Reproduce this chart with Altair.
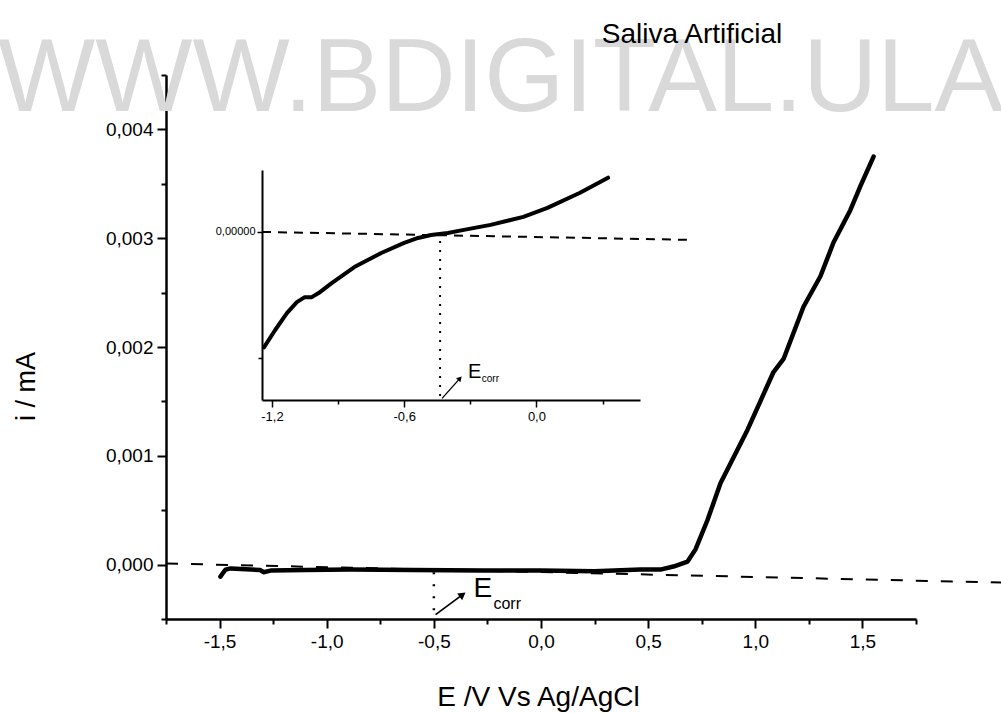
import altair as alt
import pandas as pd

# ---------------- data ----------------
# main polarisation curve (E in V, i in mA)
E_main = [-1.496, -1.485, -1.472, -1.449, -1.40, -1.31, -1.295, -1.262, -1.10, -0.889,
          -0.60, -0.268, 0.0, 0.25, 0.464, 0.557, 0.618, 0.684, 0.721, 0.777,
          0.838, 0.964, 1.085, 1.132, 1.225, 1.304, 1.365, 1.444, 1.491, 1.552]
I_main = [-0.00011, -0.00008, -0.000046, -0.000035, -0.00004, -0.00005, -0.00007, -0.000055, -0.00005, -0.000046,
          -0.00005, -0.000055, -0.000055, -0.00006, -0.000046, -0.000046, -0.000018, 0.000028, 0.00014, 0.00041,
          0.00075, 0.00124, 0.00177, 0.00189, 0.00237, 0.00265, 0.00296, 0.00326, 0.00348, 0.00375]

# dashed zero-current reference line (main)
E_base = [-1.75, 2.16]
I_base = [0.00001, -0.000166]

# E_corr marker (main)
E_corr_main = -0.5
I_corr_line = [-0.00007, -0.00045]
E_arrow_main = [-0.492, -0.366]
I_arrow_main = [-0.00046, -0.000276]

# inset curve (E in V, arbitrary current units)
E_in = [-1.236, -1.186, -1.132, -1.087, -1.051, -1.019, -0.988, -0.929, -0.826, -0.704,
        -0.60, -0.537, -0.478, -0.402, -0.329, -0.208, -0.059, 0.050, 0.198, 0.325]
V_in = [-0.913, -0.778, -0.643, -0.556, -0.516, -0.516, -0.484, -0.405, -0.278, -0.167,
        -0.087, -0.048, -0.024, -0.008, 0.016, 0.056, 0.119, 0.190, 0.310, 0.429]
E_in_base = [-1.245, 0.70]
V_in_base = [0.0, -0.063]
E_corr_in = -0.437
V_corr_in = [0.0, -1.33]
E_arrow_in = [-0.428, -0.347]
V_arrow_in = [-1.317, -1.159]

x_major = [-1.5, -1.0, -0.5, 0.0, 0.5, 1.0, 1.5]
x_minor = [-1.75, -1.25, -0.75, -0.25, 0.25, 0.75, 1.25, 1.75]
y_major = [0.0, 0.001, 0.002, 0.003, 0.004]
y_minor = [-0.0005, 0.0005, 0.0015, 0.0025, 0.0035, 0.0045]
x_major_in = [-1.2, -0.6, 0.0]
x_minor_in = [-0.9, -0.3, 0.3]
y_major_in = [0.0]
y_minor_in = [-1.0]

FONT = "Liberation Sans"

# ---------------- scales ----------------
xdom = alt.Scale(domain=[-1.75, 1.75], nice=False, zero=False)
ydom = alt.Scale(domain=[-0.0005, 0.0045], nice=False, zero=False)
xin = alt.Scale(domain=[-1.245, 0.47], range=[96, 474], nice=False, zero=False)
yin = alt.Scale(domain=[-1.33, 0.49], range=[325, 95], nice=False, zero=False)

comma1 = "replace(replace(format(datum.value, '.1f'), '.', ','), '\u2212', '-')"
comma3 = "replace(replace(format(datum.value, '.3f'), '.', ','), '\u2212', '-')"

common = dict(domainColor="black", tickColor="black", grid=False, labelOverlap=False,
              labelColor="black", labelFont=FONT)

x_axis = alt.Axis(orient="bottom", values=x_major, title="E /V Vs Ag/AgCl", labelExpr=comma1,
                  tickSize=9, tickWidth=2, domainWidth=2.5, labelFontSize=19, labelPadding=4,
                  titleFontSize=28, titleFontWeight="normal", titleFont=FONT, titleColor="black",
                  titleX=372, titleY=86, titleAlign="center", titleBaseline="alphabetic", **common)
y_axis = alt.Axis(orient="left", values=y_major, title="i / mA", labelExpr=comma3,
                  tickSize=9, tickWidth=2, domainWidth=2.5, labelFontSize=19, labelPadding=4,
                  titleFontSize=27, titleFontWeight="normal", titleFont=FONT, titleColor="black",
                  titleX=-132, titleY=311, titleAngle=270, titleAlign="center",
                  titleBaseline="alphabetic", **common)
x_axis_minor = alt.Axis(orient="bottom", values=x_minor, title="", labels=False, domain=False,
                        tickSize=5, tickWidth=2, tickColor="black", grid=False)
y_axis_minor = alt.Axis(orient="left", values=y_minor, title="", labels=False, domain=False,
                        tickSize=5, tickWidth=2, tickColor="black", grid=False)

x_axis_in = alt.Axis(orient="bottom", offset=-219, values=x_major_in, title="", labelExpr=comma1,
                     tickSize=7, tickWidth=1.5, domainWidth=2, labelFontSize=13, labelPadding=3,
                     **common)
y_axis_in = alt.Axis(orient="left", offset=-96, values=y_major_in, title="",
                     labelExpr="'0,00000'", tickSize=5, tickWidth=1.5, domainWidth=2,
                     labelFontSize=11, labelPadding=2, **common)
x_axis_in_minor = alt.Axis(orient="bottom", offset=-219, values=x_minor_in, title="", labels=False,
                           domain=False, tickSize=4, tickWidth=1.5, tickColor="black", grid=False)
y_axis_in_minor = alt.Axis(orient="left", offset=-96, values=y_minor_in, title="", labels=False,
                           domain=False, tickSize=4, tickWidth=1.5, tickColor="black", grid=False)


def mx(xax=None):
    return alt.X("E:Q", scale=xdom, axis=xax) if xax is not None else alt.X("E:Q", scale=xdom, axis=None)


def my(yax=None):
    return alt.Y("I:Q", scale=ydom, axis=yax) if yax is not None else alt.Y("I:Q", scale=ydom, axis=None)


def ix(xax=None):
    return alt.X("E:Q", scale=xin, axis=xax) if xax is not None else alt.X("E:Q", scale=xin, axis=None)


def iy(yax=None):
    return alt.Y("V:Q", scale=yin, axis=yax) if yax is not None else alt.Y("V:Q", scale=yin, axis=None)


# ---------------- main group ----------------
df_main = pd.DataFrame({"E": E_main, "I": I_main})
main_curve = alt.Chart(df_main).mark_line(color="black", strokeWidth=4.5, strokeCap="round",
                                          strokeJoin="round", clip=False).encode(
    x=mx(x_axis), y=my(y_axis), order="E:Q")

df_base = pd.DataFrame({"E": E_base, "I": I_base})
main_base = alt.Chart(df_base).mark_line(color="black", strokeWidth=2, strokeDash=[12, 13],
                                         clip=False).encode(x=mx(x_axis_minor), y=my(y_axis_minor))

df_corr = pd.DataFrame({"E": [E_corr_main, E_corr_main], "I": I_corr_line})
main_corr = alt.Chart(df_corr).mark_line(color="black", strokeWidth=2.5, strokeDash=[2, 10]).encode(
    x=mx(), y=my())

df_arr = pd.DataFrame({"E": E_arrow_main, "I": I_arrow_main})
main_arrow = alt.Chart(df_arr).mark_line(color="black", strokeWidth=1.8).encode(x=mx(), y=my())
main_head = alt.Chart(pd.DataFrame({"E": [E_arrow_main[1]], "I": [I_arrow_main[1]]})).mark_point(
    shape="triangle-up", filled=True, color="black", size=70, angle=53, opacity=1).encode(
    x=mx(), y=my())

main_E = alt.Chart(pd.DataFrame({"E": [-0.315], "I": [-0.000294], "t": ["E"]})).mark_text(
    align="left", baseline="alphabetic", fontSize=28, font=FONT, color="black").encode(
    x=mx(), y=my(), text="t:N")
main_sub = alt.Chart(pd.DataFrame({"E": [-0.222], "I": [-0.000405], "t": ["corr"]})).mark_text(
    align="left", baseline="alphabetic", fontSize=16, font=FONT, color="black").encode(
    x=mx(), y=my(), text="t:N")

# ---------------- inset group ----------------
df_in = pd.DataFrame({"E": E_in, "V": V_in})
inset_curve = alt.Chart(df_in).mark_line(color="black", strokeWidth=4, strokeCap="round",
                                         strokeJoin="round", clip=False).encode(
    x=ix(x_axis_in), y=iy(y_axis_in), order="E:Q")
inset_base = alt.Chart(pd.DataFrame({"E": E_in_base, "V": V_in_base})).mark_line(
    color="black", strokeWidth=2, strokeDash=[9, 7], clip=False).encode(
    x=ix(x_axis_in_minor), y=iy(y_axis_in_minor))
inset_corr = alt.Chart(pd.DataFrame({"E": [E_corr_in, E_corr_in], "V": V_corr_in})).mark_line(
    color="black", strokeWidth=2, strokeDash=[2, 7]).encode(x=ix(), y=iy())
inset_arrow = alt.Chart(pd.DataFrame({"E": E_arrow_in, "V": V_arrow_in})).mark_line(
    color="black", strokeWidth=1.3).encode(x=ix(), y=iy())
inset_head = alt.Chart(pd.DataFrame({"E": [E_arrow_in[1]], "V": [V_arrow_in[1]]})).mark_point(
    shape="triangle-up", filled=True, color="black", size=35, angle=42, opacity=1).encode(
    x=ix(), y=iy())
inset_E = alt.Chart(pd.DataFrame({"E": [-0.31], "V": [-1.159], "t": ["E"]})).mark_text(
    align="left", baseline="alphabetic", fontSize=20, font=FONT, color="black").encode(
    x=ix(), y=iy(), text="t:N")
inset_sub = alt.Chart(pd.DataFrame({"E": [-0.248], "V": [-1.19], "t": ["corr"]})).mark_text(
    align="left", baseline="alphabetic", fontSize=10, font=FONT, color="black").encode(
    x=ix(), y=iy(), text="t:N")

# ---------------- texts outside the plot ----------------
watermark = alt.Chart(pd.DataFrame({"t": ["WWW.BDIGITAL.ULA"]})).mark_text(
    align="left", baseline="alphabetic", fontSize=103, font=FONT, color="#d9d9d9").encode(
    x=alt.value(-168), y=alt.value(36), text="t:N")
title = alt.Chart(pd.DataFrame({"t": ["Saliva Artificial"]})).mark_text(
    align="center", baseline="alphabetic", fontSize=28, font=FONT, color="black").encode(
    x=alt.value(526), y=alt.value(-32), text="t:N")

chart = alt.layer(
    watermark, title,
    main_curve, main_base, main_corr, main_arrow, main_head, main_E, main_sub,
    inset_curve, inset_base, inset_corr, inset_arrow, inset_head, inset_E, inset_sub,
).resolve_scale(x="independent", y="independent").resolve_axis(
    x="independent", y="independent").properties(
    width=750, height=544,
    padding={"left": 166, "top": 75, "right": 85, "bottom": 94},
    autosize=alt.AutoSizeParams(type="none"),
).configure(font=FONT, background="white").configure_view(
    stroke="transparent", strokeWidth=0).configure_axis(grid=False)

chart.save("out.html", embed_options={"renderer": "svg", "actions": False})
